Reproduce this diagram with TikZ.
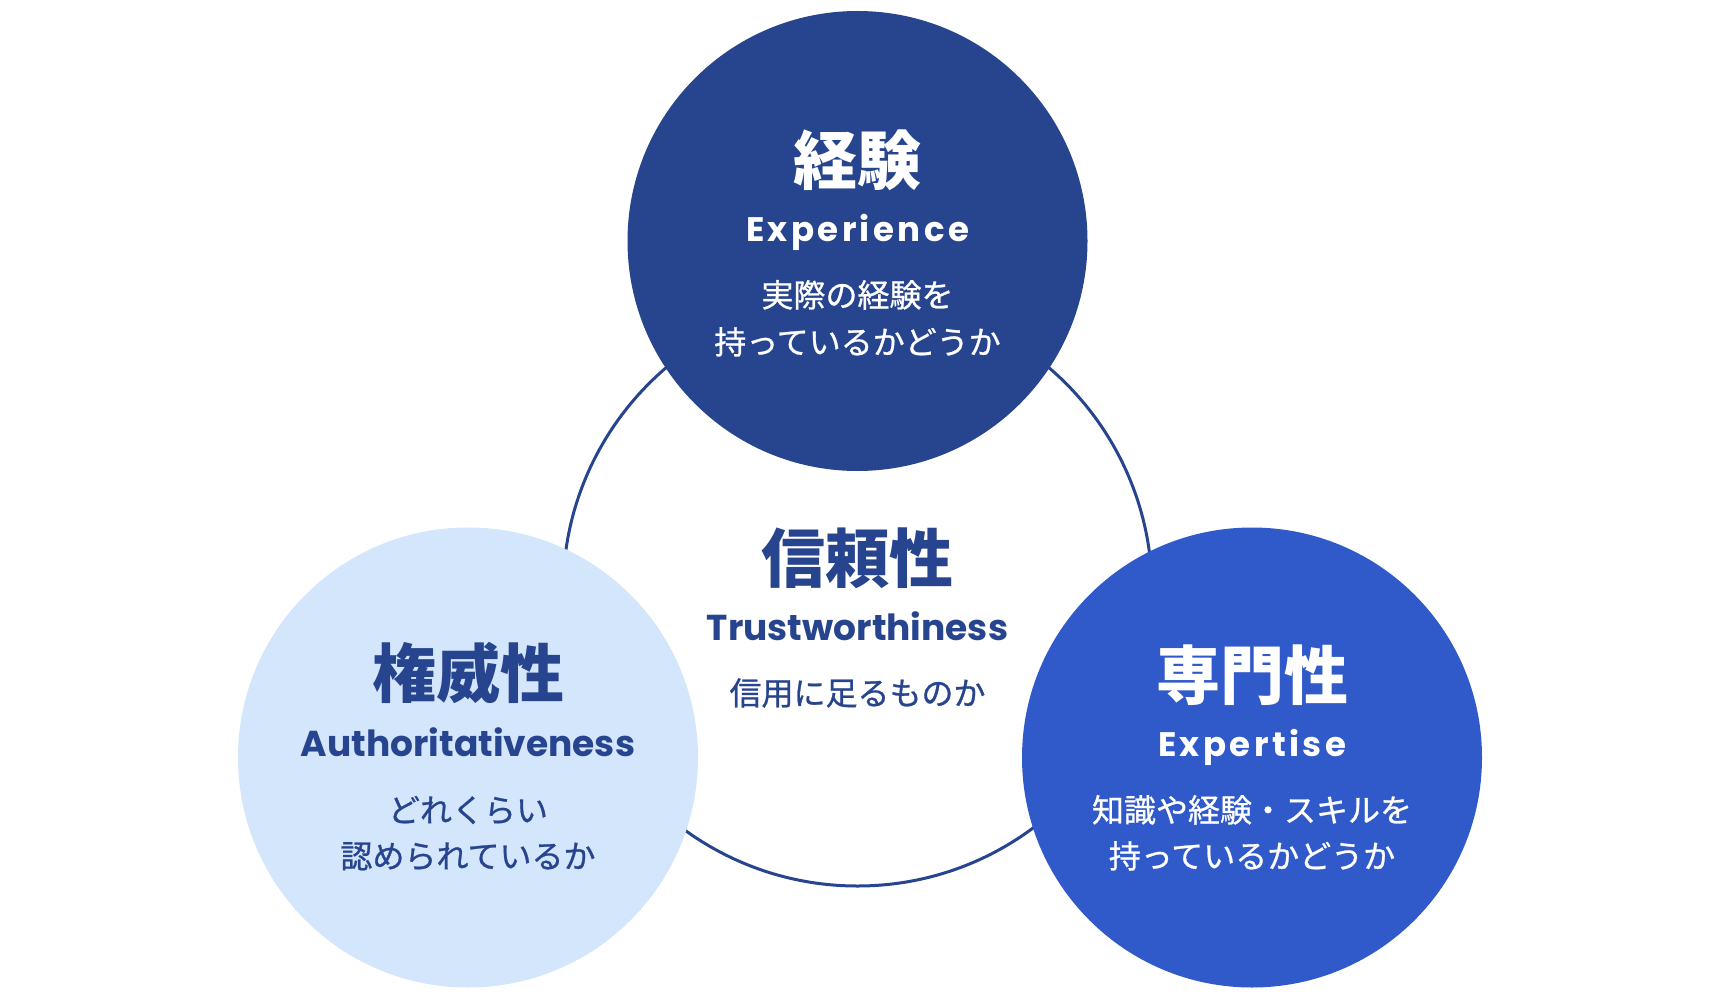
\documentclass[tikz,border=0pt]{standalone}
\usepackage{fontspec}
\newfontfamily\jp{Noto Sans CJK JP}
\newfontfamily\jpm{Noto Sans CJK JP}[FakeBold=0.8]
\newfontfamily\pop{Poppins}
\newfontfamily\popsp{Poppins}[LetterSpace=10]
\definecolor{navy}{HTML}{27448F}
\definecolor{royal}{HTML}{3059C9}
\definecolor{pale}{HTML}{D3E6FC}
\tikzset{
  disc/.style={circle, inner sep=0pt, outer sep=0pt, minimum size=460pt},
  ring/.style={circle, inner sep=0pt, outer sep=0pt, minimum size=589pt, draw=navy, line width=3pt, fill=white},
  ttl/.style={anchor=base, inner sep=0pt, font=\jp\bfseries\fontsize{64}{64}\selectfont},
  eng/.style={anchor=base, inner sep=0pt, font=\pop\bfseries\fontsize{36}{36}\selectfont},
  engw/.style={anchor=base, inner sep=0pt, font=\popsp\bfseries\fontsize{34}{34}\selectfont},
  dsc/.style={anchor=base, inner sep=0pt, font=\jpm\fontsize{32}{32}\selectfont},
}
\begin{document}
\begin{tikzpicture}[x=1pt,y=-1pt]
\useasboundingbox (0,0) rectangle (1720,1000);
\fill[white] (0,0) rectangle (1720,1000);
% central ring
\node[ring] (trust) at (857.5,591.5) {};
% three discs
\node[disc, fill=navy] (exp) at (857.5,241) {};
\node[disc, fill=pale] (auth) at (468,757.5) {};
\node[disc, fill=royal] (expt) at (1252,757.5) {};
% Experience
\node[ttl, text=white] (expT) at (857.5,185) {経験};
\node[engw, text=white] (expE) at (857.5,242) {Experience};
\node[dsc, text=white] (expD1) at (857.5,307) {実際の経験を};
\node[dsc, text=white] (expD2) at (857.5,354) {持っているかどうか};
% Trust
\node[ttl, text=navy] (trT) at (857.5,582) {信頼性};
\node[eng, text=navy] (trE) at (857.5,640) {Trustworthiness};
\node[dsc, text=navy] (trD) at (857.5,705) {信用に足るものか};
% Authoritativeness
\node[ttl, text=navy] (auT) at (468,697) {権威性};
\node[eng, text=navy] (auE) at (468,756) {Authoritativeness};
\node[dsc, text=navy] (auD1) at (468,822) {どれくらい};
\node[dsc, text=navy] (auD2) at (468,868) {認められているか};
% Expertise
\node[ttl, text=white] (etT) at (1252,699) {専門性};
\node[engw, text=white] (etE) at (1252,756) {Expertise};
\node[dsc, text=white] (etD1) at (1252,822) {知識や経験・スキルを};
\node[dsc, text=white] (etD2) at (1252,868) {持っているかどうか};
\end{tikzpicture}
\end{document}
